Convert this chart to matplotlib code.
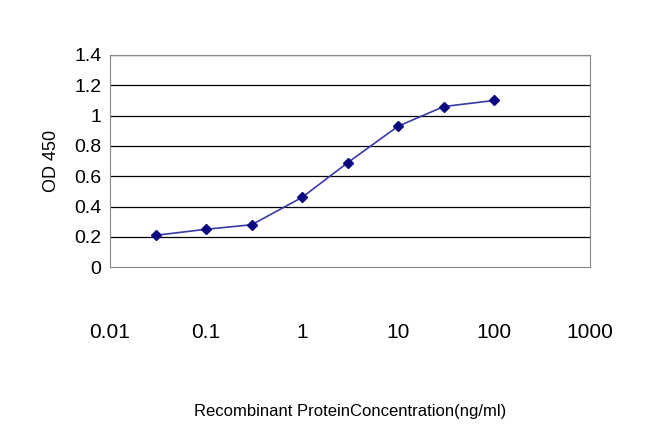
import matplotlib
matplotlib.use("Agg")
from matplotlib import pyplot as plt

plt.rcParams['font.family'] = ['Liberation Sans', 'DejaVu Sans']

conc = [0.03, 0.1, 0.3, 1, 3, 10, 30, 100]
od = [0.21, 0.25, 0.28, 0.46, 0.69, 0.93, 1.06, 1.10]
xticks = [0.01, 0.1, 1, 10, 100, 1000]
xtick_labels = ["0.01", "0.1", "1", "10", "100", "1000"]
yticks = [0, 0.2, 0.4, 0.6, 0.8, 1, 1.2, 1.4]
ytick_labels = ["0", "0.2", "0.4", "0.6", "0.8", "1", "1.2", "1.4"]

fig = plt.figure(figsize=(6.5, 4.33), dpi=100)
ax = fig.add_axes([0.169, 0.383, 0.739, 0.49])
ax.set_xscale("log")
ax.set_xlim(0.01, 1000)
ax.set_ylim(0, 1.4)
for y in yticks[1:]:
    ax.axhline(y, color="black", lw=0.9, zorder=1)
ax.plot(conc, od, color="#3a3aa8", lw=1.2, marker="D", markersize=5,
        markerfacecolor="#0a0a80", markeredgecolor="#0a0a80", zorder=3)
ax.set_xticks(xticks)
ax.set_xticklabels(xtick_labels, fontsize=15)
ax.minorticks_off()
ax.set_yticks(yticks)
ax.set_yticklabels(ytick_labels, fontsize=14)
ax.tick_params(axis="x", length=0, pad=40)
ax.tick_params(axis="y", length=0, pad=6)
for s in ax.spines.values():
    s.set_color("#888888")
ax.set_ylabel("OD 450", fontsize=13, labelpad=10)
ax.set_xlabel("Recombinant ProteinConcentration(ng/ml)", fontsize=12, labelpad=45)
fig.savefig("out.png", dpi=100)
